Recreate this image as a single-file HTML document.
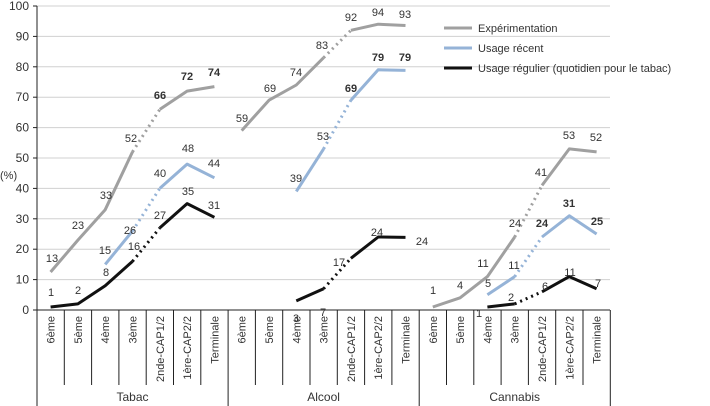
<!DOCTYPE html>
<html><head><meta charset="utf-8"><style>body{margin:0;background:#fff}svg{display:block}text{font-family:"Liberation Sans",sans-serif;font-size:11px;fill:#333}</style></head><body>
<svg width="710" height="406" viewBox="0 0 710 406">
<g stroke="#d0d0d0" stroke-width="1">
<line x1="37" y1="6" x2="610" y2="6"/><line x1="37" y1="36.4" x2="610" y2="36.4"/><line x1="37" y1="66.8" x2="610" y2="66.8"/><line x1="37" y1="97.2" x2="610" y2="97.2"/><line x1="37" y1="127.6" x2="610" y2="127.6"/><line x1="37" y1="158" x2="610" y2="158"/><line x1="37" y1="188.4" x2="610" y2="188.4"/><line x1="37" y1="218.8" x2="610" y2="218.8"/><line x1="37" y1="249.2" x2="610" y2="249.2"/><line x1="37" y1="279.6" x2="610" y2="279.6"/>
</g>
<g stroke="#222" stroke-width="1">
<line x1="37" y1="6" x2="37" y2="406"/><line x1="37" y1="310" x2="610" y2="310"/>
<line x1="33" y1="6" x2="37" y2="6"/><line x1="33" y1="36.4" x2="37" y2="36.4"/><line x1="33" y1="66.8" x2="37" y2="66.8"/><line x1="33" y1="97.2" x2="37" y2="97.2"/><line x1="33" y1="127.6" x2="37" y2="127.6"/><line x1="33" y1="158" x2="37" y2="158"/><line x1="33" y1="188.4" x2="37" y2="188.4"/><line x1="33" y1="218.8" x2="37" y2="218.8"/><line x1="33" y1="249.2" x2="37" y2="249.2"/><line x1="33" y1="279.6" x2="37" y2="279.6"/><line x1="33" y1="310" x2="37" y2="310"/>
<line x1="64.3" y1="310" x2="64.3" y2="385"/><line x1="91.6" y1="310" x2="91.6" y2="385"/><line x1="118.9" y1="310" x2="118.9" y2="385"/><line x1="146.2" y1="310" x2="146.2" y2="385"/><line x1="173.5" y1="310" x2="173.5" y2="385"/><line x1="200.8" y1="310" x2="200.8" y2="385"/>
<line x1="228.1" y1="310" x2="228.1" y2="406"/>
<line x1="255.4" y1="310" x2="255.4" y2="385"/><line x1="282.7" y1="310" x2="282.7" y2="385"/><line x1="310" y1="310" x2="310" y2="385"/><line x1="337.3" y1="310" x2="337.3" y2="385"/><line x1="364.6" y1="310" x2="364.6" y2="385"/><line x1="391.9" y1="310" x2="391.9" y2="385"/>
<line x1="419.2" y1="310" x2="419.2" y2="406"/>
<line x1="446.5" y1="310" x2="446.5" y2="385"/><line x1="473.8" y1="310" x2="473.8" y2="385"/><line x1="501.1" y1="310" x2="501.1" y2="385"/><line x1="528.4" y1="310" x2="528.4" y2="385"/><line x1="555.7" y1="310" x2="555.7" y2="385"/><line x1="583" y1="310" x2="583" y2="385"/>
<line x1="610.3" y1="310" x2="610.3" y2="406"/>
</g>
<g font-size="12" text-anchor="end">
<text x="29" y="10" style="font-size:12px">100</text><text x="29" y="40.4" style="font-size:12px">90</text><text x="29" y="70.8" style="font-size:12px">80</text><text x="29" y="101.2" style="font-size:12px">70</text><text x="29" y="131.6" style="font-size:12px">60</text><text x="29" y="162" style="font-size:12px">50</text><text x="29" y="192.4" style="font-size:12px">40</text><text x="29" y="222.8" style="font-size:12px">30</text><text x="29" y="253.2" style="font-size:12px">20</text><text x="29" y="283.6" style="font-size:12px">10</text><text x="29" y="314" style="font-size:12px">0</text>
</g>
<text x="0" y="179" style="font-size:11px">(%)</text>
<g text-anchor="end">
<text transform="translate(54.6,316) rotate(-90)">6ème</text><text transform="translate(81.9,316) rotate(-90)">5ème</text><text transform="translate(109.2,316) rotate(-90)">4ème</text><text transform="translate(136.5,316) rotate(-90)">3ème</text><text transform="translate(163.8,316) rotate(-90)">2nde-CAP1/2</text><text transform="translate(191.1,316) rotate(-90)">1ère-CAP2/2</text><text transform="translate(218.4,316) rotate(-90)">Terminale</text>
<text transform="translate(245.7,316) rotate(-90)">6ème</text><text transform="translate(273,316) rotate(-90)">5ème</text><text transform="translate(300.3,316) rotate(-90)">4ème</text><text transform="translate(327.6,316) rotate(-90)">3ème</text><text transform="translate(354.9,316) rotate(-90)">2nde-CAP1/2</text><text transform="translate(382.2,316) rotate(-90)">1ère-CAP2/2</text><text transform="translate(409.5,316) rotate(-90)">Terminale</text>
<text transform="translate(436.8,316) rotate(-90)">6ème</text><text transform="translate(464.1,316) rotate(-90)">5ème</text><text transform="translate(491.4,316) rotate(-90)">4ème</text><text transform="translate(518.7,316) rotate(-90)">3ème</text><text transform="translate(546,316) rotate(-90)">2nde-CAP1/2</text><text transform="translate(573.3,316) rotate(-90)">1ère-CAP2/2</text><text transform="translate(600.6,316) rotate(-90)">Terminale</text>
</g>
<g text-anchor="middle" style="font-size:12px"><text x="132.5" y="401" style="font-size:12px">Tabac</text><text x="323.6" y="401" style="font-size:12px">Alcool</text><text x="514.7" y="401" style="font-size:12px">Cannabis</text></g>
<g fill="none" stroke-width="3" stroke-linejoin="round">
<g stroke="#a0a0a0">
<polyline points="50.6,272 77.9,240.1 105.2,209.7 132.5,151.9"/><polyline points="132.5,151.9 159.8,109.4" stroke-dasharray="2,4"/><polyline points="159.8,109.4 187.1,91.1 214.4,86.6"/>
<polyline points="241.7,130.6 269,100.2 296.3,85 323.6,57.7"/><polyline points="323.6,57.7 350.9,30.3" stroke-dasharray="2,4"/><polyline points="350.9,30.3 378.2,24.2 405.5,25.5"/>
<polyline points="432.8,307 460.1,297.8 487.4,276.6 514.7,237"/><polyline points="514.7,237 542,185.4" stroke-dasharray="2,4"/><polyline points="542,185.4 569.3,148.9 596.6,151.9"/>
</g>
<g stroke="#95b3d7">
<polyline points="105.2,264.4 132.5,231"/><polyline points="132.5,231 159.8,188.4" stroke-dasharray="2,4"/><polyline points="159.8,188.4 187.1,164.1 214.4,177.8"/>
<polyline points="296.3,191.4 323.6,148.9"/><polyline points="323.6,148.9 350.9,100.2" stroke-dasharray="2,4"/><polyline points="350.9,100.2 378.2,69.8 405.5,70.4"/>
<polyline points="487.4,294.8 514.7,276.6"/><polyline points="514.7,276.6 542,237" stroke-dasharray="2,4"/><polyline points="542,237 569.3,215.8 596.6,234"/>
</g>
<g stroke="#111">
<polyline points="50.6,307 77.9,303.9 105.2,285.7 132.5,261.4"/><polyline points="132.5,261.4 159.8,227.9" stroke-dasharray="2,4"/><polyline points="159.8,227.9 187.1,203.6 214.4,217.3"/>
<polyline points="296.3,300.9 323.6,288.7"/><polyline points="323.6,288.7 350.9,258.3" stroke-dasharray="2,4"/><polyline points="350.9,258.3 378.2,237 405.5,237.4"/>
<polyline points="487.4,307 514.7,303.9"/><polyline points="514.7,303.9 542,291.8" stroke-dasharray="2,4"/><polyline points="542,291.8 569.3,276.6 596.6,288.7"/>
</g>
<line x1="444" y1="28" x2="472" y2="28" stroke="#a0a0a0"/><line x1="444" y1="48" x2="472" y2="48" stroke="#95b3d7"/><line x1="444" y1="68" x2="472" y2="68" stroke="#111"/>
</g>
<text x="478" y="32">Expérimentation</text><text x="478" y="52">Usage récent</text><text x="478" y="72">Usage régulier (quotidien pour le tabac)</text>
<g text-anchor="middle">
<text x="52" y="262">13</text><text x="78" y="229">23</text><text x="106" y="199">33</text><text x="131" y="142">52</text><text x="160" y="99" font-weight="bold">66</text><text x="187" y="80" font-weight="bold">72</text><text x="214" y="76" font-weight="bold">74</text>
<text x="105" y="254">15</text><text x="130" y="234">26</text><text x="160" y="177">40</text><text x="188" y="152">48</text><text x="214" y="167">44</text>
<text x="51" y="296">1</text><text x="78" y="294">2</text><text x="106" y="276">8</text><text x="134" y="250">16</text><text x="160" y="219">27</text><text x="188" y="195">35</text><text x="214" y="209">31</text>
<text x="242" y="122">59</text><text x="270" y="92">69</text><text x="296" y="76">74</text><text x="322" y="49">83</text><text x="351" y="21">92</text><text x="378" y="16">94</text><text x="405" y="18">93</text>
<text x="296" y="182">39</text><text x="323" y="140">53</text><text x="351" y="92" font-weight="bold">69</text><text x="378" y="61" font-weight="bold">79</text><text x="405" y="61" font-weight="bold">79</text>
<text x="296" y="322">3</text><text x="323" y="316">7</text><text x="339" y="266">17</text><text x="377" y="236">24</text><text x="422" y="245">24</text>
<text x="433" y="294">1</text><text x="460" y="289">4</text><text x="483" y="267">11</text><text x="515" y="227">24</text><text x="541" y="176">41</text><text x="569" y="139">53</text><text x="596" y="141">52</text>
<text x="488" y="287">5</text><text x="514" y="269">11</text><text x="542" y="227" font-weight="bold">24</text><text x="569" y="207" font-weight="bold">31</text><text x="597" y="225" font-weight="bold">25</text>
<text x="479" y="317">1</text><text x="511" y="301">2</text><text x="545" y="290">6</text><text x="570" y="276">11</text><text x="598" y="287">7</text>
</g>
</svg>
</body></html>
